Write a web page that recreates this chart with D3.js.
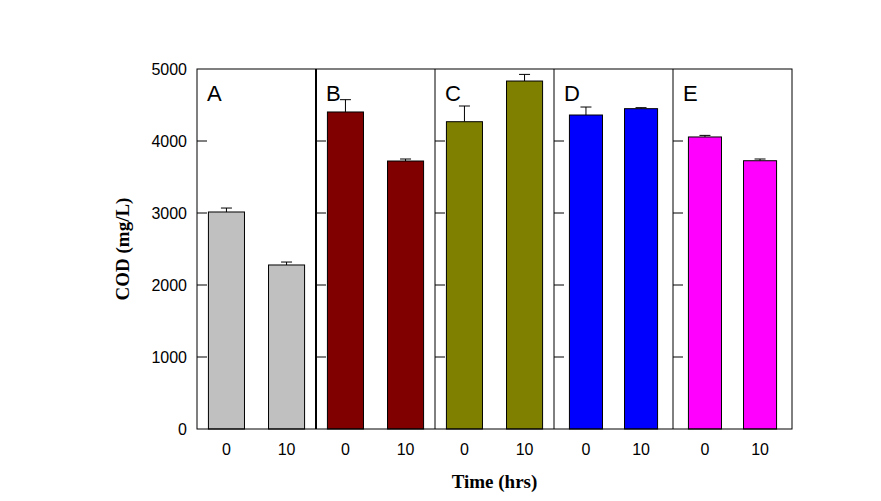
<!DOCTYPE html>
<html><head><meta charset="utf-8">
<script src="https://cdn.jsdelivr.net/npm/d3@7"></script>
<style>body{margin:0;background:#fff;}svg{display:block;}</style>
</head><body>
<svg id="chart" width="881" height="501"></svg>
<script>
const panels = ["A", "B", "C", "D", "E"];
const times = ["0", "10"];
const codT0 = [3014, 4403, 4268, 4361, 4056];
const codT10 = [2278, 3722, 4833, 4449, 3726];
const errT0 = [55, 171, 218, 111, 22];
const errT10 = [41, 28, 92, 14, 24];
const yTicks = [0, 1000, 2000, 3000, 4000, 5000];
const panelColors = ["#C0C0C0", "#800000", "#808000", "#0000FF", "#FF00FF"];

const svg = d3.select("#chart");
const L = 197, R = 792, T = 69, B = 429;

const xPanel = d3.scaleBand().domain(panels).range([L, R]).padding(0);
const y = d3.scaleLinear().domain([0, 5000]).range([B, T]);
const bw = xPanel.bandwidth();

function inner(i) {
  const s = d3.scaleBand().domain(times).range([0, bw]);
  if (i >= 3) s.paddingInner(0.4).paddingOuter(0.28);
  else s.paddingInner(0.4).paddingOuter(0.19);
  return s;
}

const data = [];
panels.forEach((p, i) => {
  data.push({panel: p, i, t: "0", v: codT0[i], e: errT0[i]});
  data.push({panel: p, i, t: "10", v: codT10[i], e: errT10[i]});
});

// bars
const g = svg.append("g");
data.forEach(d => {
  const xs = inner(d.i);
  const x0 = xPanel(d.panel) + xs(d.t);
  const w = xs.bandwidth();
  const cx = x0 + w / 2;
  // error bar (upper)
  g.append("line").attr("x1", cx).attr("x2", cx)
    .attr("y1", y(d.v)).attr("y2", y(d.v + d.e))
    .attr("stroke", "#000").attr("stroke-width", 1);
  g.append("line").attr("x1", cx - 5.5).attr("x2", cx + 5.5)
    .attr("y1", y(d.v + d.e)).attr("y2", y(d.v + d.e))
    .attr("stroke", "#000").attr("stroke-width", 1);
  g.append("rect").attr("x", x0).attr("y", y(d.v))
    .attr("width", w).attr("height", y(0) - y(d.v))
    .attr("fill", panelColors[d.i]).attr("stroke", "#000").attr("stroke-width", 1);
  // x tick label
  svg.append("text").attr("x", cx).attr("y", 455)
    .attr("text-anchor", "middle")
    .attr("font-family", "Arial, 'Liberation Sans', sans-serif")
    .attr("font-size", 16).text(d.t);
});

// frame
svg.append("rect").attr("x", L).attr("y", T).attr("width", R - L).attr("height", B - T)
  .attr("fill", "none").attr("stroke", "#000").attr("stroke-width", 1);

// panel separators, inner ticks and letters
panels.forEach((p, i) => {
  const px = xPanel(p);
  if (i > 0) {
    svg.append("line").attr("x1", px).attr("x2", px).attr("y1", T).attr("y2", B)
      .attr("stroke", "#000").attr("stroke-width", i === 1 ? 2 : 1);
  }
  yTicks.filter(t => t > 0 && t < 5000).forEach(t => {
    svg.append("line").attr("x1", px).attr("x2", px + 10)
      .attr("y1", y(t)).attr("y2", y(t))
      .attr("stroke", "#000").attr("stroke-width", 1);
  });
  svg.append("text").attr("x", px + 10).attr("y", 101)
    .attr("font-family", "Arial, 'Liberation Sans', sans-serif")
    .attr("font-size", 22).text(p);
});

// y axis labels
const yAxis = d3.axisLeft(y).tickValues(yTicks).tickSize(0).tickPadding(10)
  .tickFormat(d3.format("d"));
const ya = svg.append("g").attr("transform", `translate(${L},0)`).call(yAxis);
ya.select(".domain").remove();
ya.selectAll("text").attr("font-family", "Arial, 'Liberation Sans', sans-serif")
  .attr("font-size", 16).attr("fill", "#000");

// axis titles
svg.append("text").attr("transform", "translate(129,249) rotate(-90)")
  .attr("text-anchor", "middle")
  .attr("font-family", "'Times New Roman', 'Liberation Serif', serif")
  .attr("font-weight", "bold").attr("font-size", 19).text("COD (mg/L)");
svg.append("text").attr("x", (L + R) / 2).attr("y", 488)
  .attr("text-anchor", "middle")
  .attr("font-family", "'Times New Roman', 'Liberation Serif', serif")
  .attr("font-weight", "bold").attr("font-size", 19).text("Time (hrs)");
</script>
</body></html>
